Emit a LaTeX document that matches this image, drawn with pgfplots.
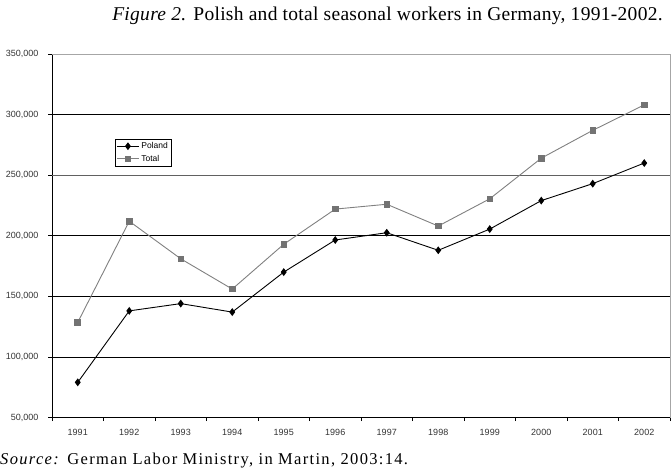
\documentclass[border=0pt]{standalone}
\usepackage{fontspec}
\setmainfont{Liberation Serif}
\newfontfamily\arial{Liberation Sans}
\usepackage{pgfplots}
\pgfplotsset{compat=1.18}

\pgfplotstableread{
year  poland total
1  79000  128500
2  138000 212000
3  144000 181000
4  137000 156000
5  170000 193000
6  196500 222000
7  202500 226000
8  188000 208000
9  205500 230500
10 229000 264000
11 243000 287000
12 260000 308000
}\workers

\definecolor{totalgray}{RGB}{128,128,128}

\begin{document}
\begin{tikzpicture}
\useasboundingbox (0pt,0pt) rectangle (672pt,475pt);

\node[anchor=center, font=\fontsize{19.5}{22}\selectfont\addfontfeatures{LetterSpace=1.5}] at (387.5pt,459pt)
  {\textit{Figure 2.} Polish and total seasonal workers in Germany, 1991-2002.};

\node[anchor=west, inner sep=0pt, font=\fontsize{16.5}{19}\selectfont\addfontfeatures{LetterSpace=8}] at (0pt,14pt)
  {\textit{Source:} German Labor Ministry, in Martin, 2003:14.};

\begin{axis}[
  at={(52pt,57.5pt)}, anchor=south west,
  scale only axis,
  width=618pt, height=363.5pt,
  xmin=0.5, xmax=12.5,
  ymin=50000, ymax=350000,
  axis x line*=bottom, axis y line*=left,
  axis line style={black, line width=0.8pt},
  xtick={0.5,1.5,...,12.5},
  x tick label as interval,
  xticklabels={1991,1992,1993,1994,1995,1996,1997,1998,1999,2000,2001,2002},
  ytick={50000,100000,...,350000},
  scaled y ticks=false,
  yticklabel style={xshift=-6.5pt, /pgf/number format/.cd, fixed, precision=0, 1000 sep={,}},
  /pgf/number format/assume math mode=true,
  ticklabel style={font=\arial\fontsize{9}{10}\selectfont, text=black!80},
  xticklabel style={yshift=-4.5pt},
  tick align=outside,
  major tick length=3.5pt,
  tick style={black, line width=0.8pt},
  ymajorgrids,
  grid style={black, line width=0.8pt},
  clip=false,
  legend style={
    at={(rel axis cs:0.102,0.7665)}, anchor=north west,
    font=\arial\fontsize{8.5}{9}\selectfont,
    draw=black, line width=0.6pt,
    inner sep=1.2pt, row sep=1pt,
    legend cell align=left,
  },
  legend image code/.code={
    \draw[#1, line width=0.8pt] (0pt,0pt) -- (22pt,0pt);
    \draw[#1, mark repeat=1] plot coordinates {(11pt,0pt)};
  },
]
\draw[black!62, line width=1.3pt] (axis cs:0.5,250000) -- (axis cs:12.5,250000);
\addplot[black, line width=0.9pt, mark=diamond*, mark size=3.2pt,
  mark options={fill=black, draw=black}] table[x=year, y=poland] {\workers};
\addlegendentry{Poland}
\addplot[totalgray, line width=0.9pt, mark=square*, mark size=2.8pt,
  mark options={fill=totalgray!90!black, draw=totalgray!90!black}] table[x=year, y=total] {\workers};
\addlegendentry{Total}
\draw[black!35, line width=0.9pt] (rel axis cs:0,1) -- (rel axis cs:1,1) -- (rel axis cs:1,0);
\end{axis}
\end{tikzpicture}
\end{document}
